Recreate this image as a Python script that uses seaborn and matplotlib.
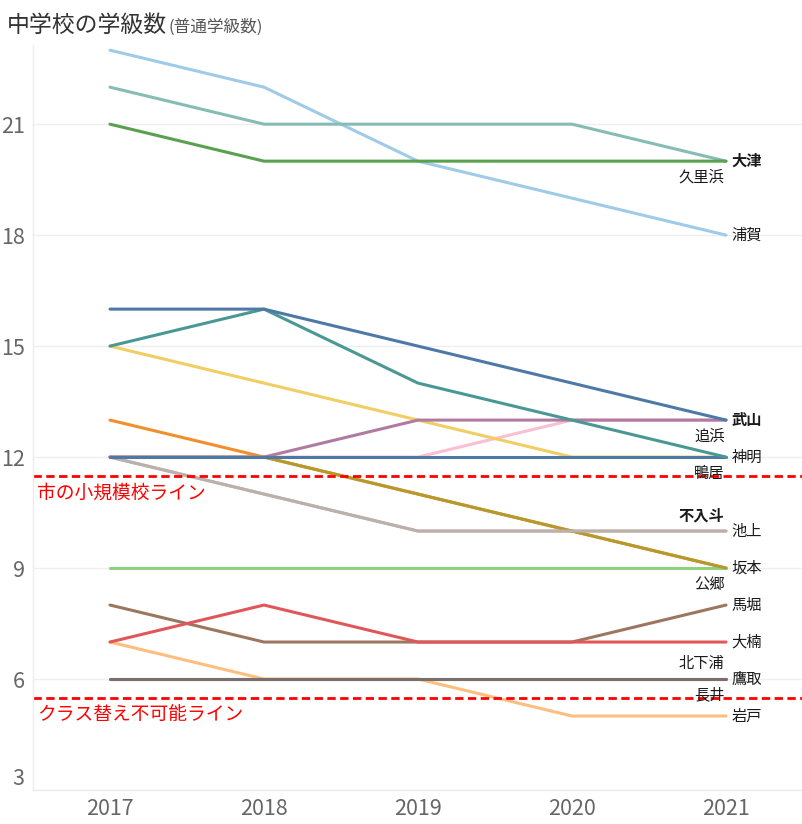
"""
中学校の学級数（普通学級数）の推移 2017-2021
"""

import matplotlib
matplotlib.use('Agg')
import pandas as pd
import matplotlib.pyplot as plt
from matplotlib.ticker import MultipleLocator
import seaborn as sns

# 年度
years = [2017, 2018, 2019, 2020, 2021]

# 各校の学級数（2017→2021）
uraga = [23, 22, 20, 19, 18]
kurihama = [22, 21, 21, 21, 20]
otsu = [21, 20, 20, 20, 20]
takeyama = [16, 16, 15, 14, 13]
shinmei = [15, 16, 14, 13, 12]
oppama = [12, 12, 13, 13, 13]
kamoi = [12, 12, 12, 12, 12]
ikegami = [12, 11, 10, 10, 10]
iriyamazu = [12, 11, 10, 10, 10]
kugo = [12, 12, 11, 10, 9]
sakamoto = [9, 9, 9, 9, 9]
mabori = [8, 7, 7, 7, 8]
ogusu = [7, 8, 7, 7, 7]
takatori = [6, 6, 6, 6, 6]
kitashitaura = [6, 6, 6, 6, 6]
nagai = [6, 6, 6, 6, 6]
iwato = [7, 6, 6, 5, 5]
# ラベルが重なって表示されていない学校
hidden_a = [12, 12, 12, 13, 13]
hidden_b = [15, 14, 13, 12, 12]
hidden_c = [13, 12, 11, 10, 9]

# ライン
small_school_line = 11.5
no_class_change_line = 5.5

# 描画順（後ろのものが上に描かれる）
schools = {
    '長井': nagai,
    '北下浦': kitashitaura,
    '不入斗': iriyamazu,
    '非表示C': hidden_c,
    '非表示A': hidden_a,
    '非表示B': hidden_b,
    '岩戸': iwato,
    '鷹取': takatori,
    '馬堀': mabori,
    '大楠': ogusu,
    '坂本': sakamoto,
    '公郷': kugo,
    '池上': ikegami,
    '追浜': oppama,
    '鴨居': kamoi,
    '神明': shinmei,
    '武山': takeyama,
    '浦賀': uraga,
    '久里浜': kurihama,
    '大津': otsu,
}

# Tableau 20 風の配色
palette = {
    '長井': '#FF9D9A',
    '北下浦': '#D4A6C8',
    '不入斗': '#D7B5A6',
    '非表示C': '#F28E2B',
    '非表示A': '#FABFD2',
    '非表示B': '#F1CE63',
    '岩戸': '#FFBE7D',
    '鷹取': '#79706E',
    '馬堀': '#9D7660',
    '大楠': '#E15759',
    '坂本': '#8CD17D',
    '公郷': '#B6992D',
    '池上': '#BAB0AC',
    '追浜': '#B07AA1',
    '鴨居': '#4E79A7',
    '神明': '#499894',
    '武山': '#4E79A7',
    '浦賀': '#A0CBE8',
    '久里浜': '#86BCB6',
    '大津': '#59A14F',
}

# 右端ラベルの位置
label_pos = {
    '大津': 'right', '久里浜': 'below', '浦賀': 'right',
    '武山': 'right', '追浜': 'below', '神明': 'right', '鴨居': 'below',
    '不入斗': 'above', '池上': 'right', '坂本': 'right', '公郷': 'below',
    '馬堀': 'right', '大楠': 'right', '北下浦': 'above', '鷹取': 'right',
    '長井': 'below', '岩戸': 'right',
}
bold_labels = {'大津', '武山', '不入斗'}

# 縦長データに変換
df = pd.DataFrame([
    {'年度': y, '学校': name, '学級数': v}
    for name, vals in schools.items()
    for y, v in zip(years, vals)
])

sns.set_style('white')
plt.rcParams['font.family'] = ['Noto Sans CJK JP', 'DejaVu Sans']

fig = plt.figure(figsize=(8.03, 8.24), dpi=100)
ax = fig.add_axes([33 / 803, 34 / 824, 770 / 803, 745 / 824])

sns.lineplot(data=df, x='年度', y='学級数', hue='学校',
             hue_order=list(schools.keys()), palette=palette,
             linewidth=2.2, legend=False, sort=False, ax=ax,
             solid_capstyle='round')

# 基準ライン
ax.axhline(small_school_line, color='red', linestyle=(0, (3, 1.6)), linewidth=2)
ax.axhline(no_class_change_line, color='red', linestyle=(0, (3, 1.6)), linewidth=2)
ytr = ax.get_yaxis_transform()
ax.annotate('市の小規模校ライン', xy=(0.005, small_school_line), xycoords=ytr,
            xytext=(0, -5), textcoords='offset points',
            ha='left', va='top', fontsize=13.5, color='red')
ax.annotate('クラス替え不可能ライン', xy=(0.005, no_class_change_line), xycoords=ytr,
            xytext=(0, -5), textcoords='offset points',
            ha='left', va='top', fontsize=13.5, color='red')

# 右端の学校名
for name, pos in label_pos.items():
    y_end = schools[name][-1]
    weight = 'bold' if name in bold_labels else 'normal'
    if pos == 'right':
        ax.annotate(name, xy=(years[-1], y_end), xytext=(4, 0),
                    textcoords='offset points', ha='left', va='center',
                    fontsize=11, color='#1a1a1a', fontweight=weight)
    else:
        dy = -11.5 if pos == 'below' else 11.5
        ax.annotate(name, xy=(years[-1], y_end), xytext=(-1, dy),
                    textcoords='offset points', ha='right', va='center',
                    fontsize=11, color='#1a1a1a', fontweight=weight)

# 軸
ax.set_xlim(2016.5, 2021.5)
ax.set_ylim(3.0, 23.14)
ax.set_xticks(years)
ax.set_xticklabels([str(y) for y in years])
ax.set_xticks([2016.5, 2017.5, 2018.5, 2019.5, 2020.5, 2021.5], minor=True)
ax.set_yticks([3, 6, 9, 12, 15, 18, 21])
ax.yaxis.set_minor_locator(MultipleLocator(1))
ax.set_xlabel('')
ax.set_ylabel('')

ax.tick_params(axis='x', which='major', length=0, pad=6, labelsize=15.5, labelcolor='#666666')
ax.tick_params(axis='x', which='minor', length=3, color='#e6e6e6', width=1)
ax.tick_params(axis='y', which='major', length=4, color='#ececec', width=1,
               pad=2, labelsize=15.5, labelcolor='#666666')
ax.tick_params(axis='y', which='minor', length=2, color='#ececec', width=1)
ax.yaxis.grid(True, color='#efefef', linewidth=1)
ax.xaxis.grid(False)
ax.set_axisbelow(True)

sns.despine(ax=ax, top=True, right=True)
for side in ['left', 'bottom']:
    ax.spines[side].set_color('#ececec')
    ax.spines[side].set_linewidth(1)

# 一番下の目盛りラベルは軸の内側に収める
ax.get_yticklabels()[0].set_verticalalignment('bottom')

# タイトル
title = fig.text(7 / 803, 1 - 32 / 824, '中学校の学級数', fontsize=16.5,
                 color='#333333', va='baseline', ha='left')
fig.canvas.draw()
bb = title.get_window_extent()
fig.text((bb.x1 + 1) / fig.bbox.width, 1 - 32 / 824, '(普通学級数)', fontsize=12,
         color='#555555', va='baseline', ha='left')

fig.savefig('out.png', dpi=100)
